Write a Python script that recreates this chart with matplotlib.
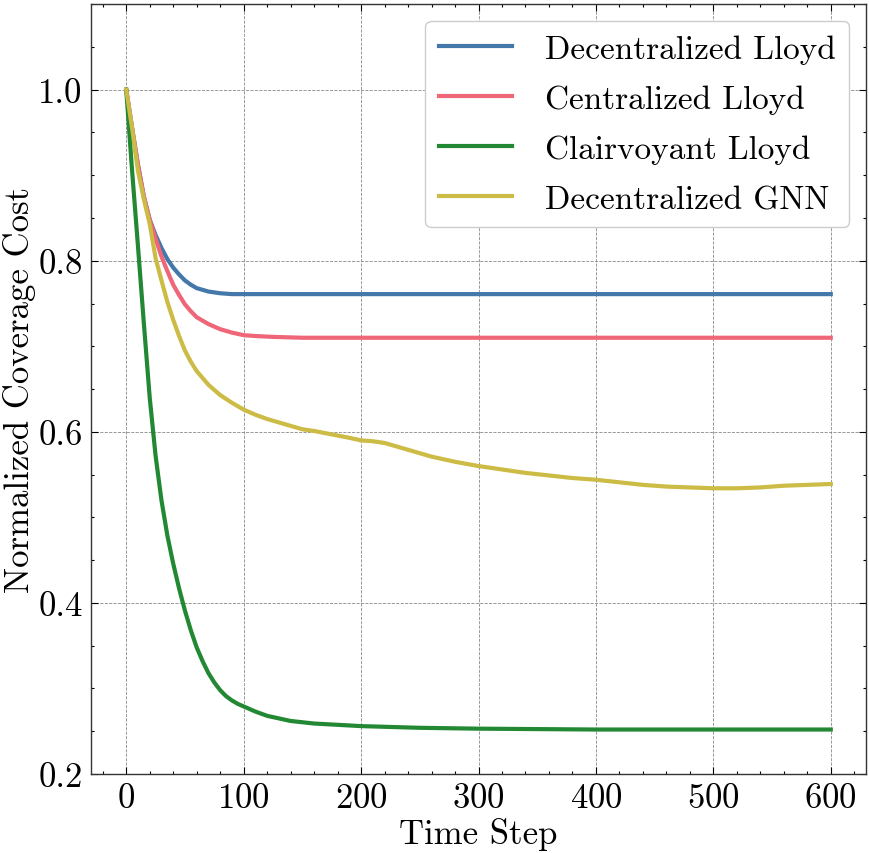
import matplotlib
matplotlib.use("Agg")
import matplotlib.pyplot as plt
from matplotlib.ticker import MultipleLocator

# ---- data ----
x_blue = [0, 5, 10, 15, 20, 25, 30, 35, 40, 45, 50, 55, 60, 65, 70, 75, 80, 90, 100, 150, 200, 300, 400, 500, 600]
y_blue = [1.0, 0.955, 0.912, 0.875, 0.848, 0.830, 0.815, 0.802, 0.792, 0.784, 0.777, 0.772, 0.768, 0.766,
          0.764, 0.763, 0.762, 0.761, 0.761, 0.761, 0.761, 0.761, 0.761, 0.761, 0.761]

x_red = [0, 5, 10, 15, 20, 25, 30, 35, 40, 45, 50, 55, 60, 65, 70, 75, 80, 90, 100, 110, 125, 150, 200, 300,
         400, 500, 600]
y_red = [1.0, 0.955, 0.912, 0.875, 0.848, 0.826, 0.805, 0.788, 0.772, 0.760, 0.749, 0.741, 0.734, 0.730,
         0.726, 0.723, 0.720, 0.716, 0.713, 0.712, 0.711, 0.710, 0.710, 0.710, 0.710, 0.710, 0.710]

x_green = [0, 5, 10, 15, 20, 25, 30, 35, 40, 45, 50, 55, 60, 65, 70, 75, 80, 85, 90, 95, 100, 110, 120, 140,
           160, 200, 250, 300, 400, 500, 600]
y_green = [1.0, 0.905, 0.817, 0.727, 0.640, 0.572, 0.520, 0.479, 0.446, 0.417, 0.391, 0.368, 0.348, 0.332,
           0.318, 0.307, 0.298, 0.291, 0.286, 0.282, 0.279, 0.273, 0.268, 0.262, 0.259, 0.256, 0.254,
           0.253, 0.252, 0.252, 0.252]

x_yellow = [0, 5, 10, 15, 20, 25, 30, 35, 40, 45, 50, 55, 60, 70, 80, 90, 100, 110, 120, 130, 140, 150, 160,
            175, 190, 200, 210, 220, 240, 260, 280, 300, 320, 340, 360, 380, 400, 420, 440, 460, 480, 500,
            520, 540, 560, 580, 600]
y_yellow = [1.0, 0.955, 0.905, 0.872, 0.843, 0.803, 0.777, 0.752, 0.731, 0.712, 0.695, 0.682, 0.671, 0.655,
            0.643, 0.634, 0.626, 0.620, 0.615, 0.611, 0.607, 0.603, 0.601, 0.597, 0.593, 0.590, 0.589,
            0.587, 0.579, 0.571, 0.565, 0.560, 0.556, 0.552, 0.549, 0.546, 0.544, 0.541, 0.538, 0.536,
            0.535, 0.534, 0.534, 0.535, 0.537, 0.538, 0.539]

labels = ["Decentralized Lloyd", "Centralized Lloyd", "Clairvoyant Lloyd", "Decentralized GNN"]
colors = ["#4477AA", "#EE6677", "#228833", "#CCBB44"]

# ---- style ----
plt.rcParams["font.family"] = "serif"
plt.rcParams["font.serif"] = ["cmr10", "DejaVu Serif"]
plt.rcParams["mathtext.fontset"] = "cm"
plt.rcParams["axes.unicode_minus"] = False
plt.rcParams["axes.formatter.use_mathtext"] = True

FS = 24

fig = plt.figure(figsize=(8.7, 8.54), dpi=100)
ax = fig.add_axes([0.1046, 0.0925, 0.8908, 0.9015])

series = [(x_blue, y_blue), (x_red, y_red), (x_green, y_green), (x_yellow, y_yellow)]
for (xs, ys), lab, c in zip(series, labels, colors):
    ax.plot(xs, ys, color=c, lw=3.0, label=lab, solid_joinstyle="round")

ax.set_xlim(-30, 630)
ax.set_ylim(0.2, 1.1)
ax.xaxis.set_major_locator(MultipleLocator(100))
ax.xaxis.set_minor_locator(MultipleLocator(20))
ax.yaxis.set_minor_locator(MultipleLocator(0.05))
ax.set_yticks([0.2, 0.4, 0.6, 0.8, 1.0])
ax.set_yticklabels(["0.2", "0.4", "0.6", "0.8", "1.0"])

ax.tick_params(which="both", direction="in", top=True, right=True, labelsize=FS + 1)
ax.tick_params(which="major", length=5, width=0.8)
ax.tick_params(which="minor", length=2.5, width=0.8)
ax.tick_params(axis="y", which="major", pad=6)
ax.tick_params(axis="x", which="major", pad=6)
for s in ax.spines.values():
    s.set_linewidth(1.0)
    s.set_color("#333333")

ax.grid(True, which="major", ls="--", lw=0.6, color="#888888")

ax.set_xlabel("Time Step", fontsize=FS + 1, labelpad=2)
ax.set_ylabel("Normalized Coverage Cost", fontsize=FS + 1, labelpad=2)

leg = ax.legend(loc="upper right", fontsize=FS, frameon=True, fancybox=True,
                edgecolor="#cccccc", framealpha=1.0, handlelength=2.2, labelspacing=0.62,
                handletextpad=1.0)

fig.savefig("out.png", dpi=100)
